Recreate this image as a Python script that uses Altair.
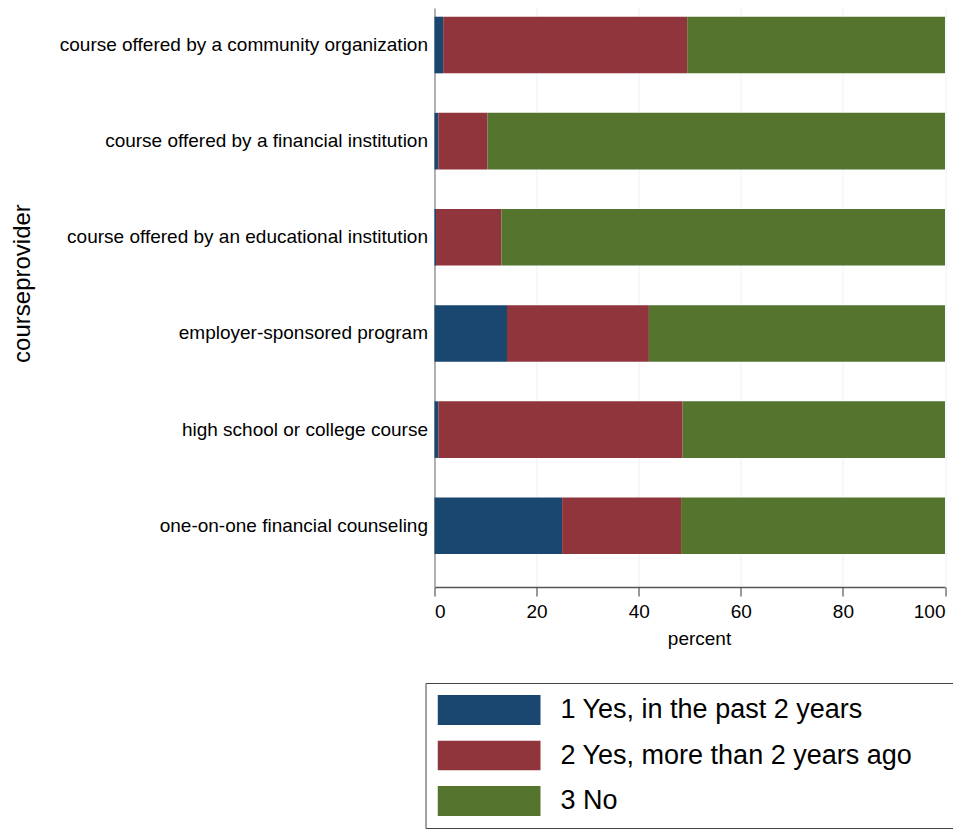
import altair as alt
import pandas as pd

providers = [
    "course offered by a community organization",
    "course offered by a financial institution",
    "course offered by an educational institution",
    "employer-sponsored program",
    "high school or college course",
    "one-on-one financial counseling",
]
responses = ["1 Yes, in the past 2 years", "2 Yes, more than 2 years ago", "3 No"]
yes_recent = [1.7, 0.75, 0.3, 14.2, 0.75, 25.0]
yes_past = [47.8, 9.65, 12.8, 27.8, 47.85, 23.3]
no_course = [50.5, 89.6, 86.9, 58.0, 51.4, 51.7]
colors = ["#1a476f", "#90353b", "#55752f"]

rows = []
for i, p in enumerate(providers):
    for j, (resp, series) in enumerate(zip(responses, [yes_recent, yes_past, no_course])):
        rows.append({"provider": p, "response": resp, "value": series[i], "idx": j})
df = pd.DataFrame(rows)

# trailing non-breaking spaces (kept by a final zero-width char) widen the legend box
tail = "\u00a0" * 5 + "\u200b"

chart = (
    alt.Chart(df)
    .mark_bar()
    .encode(
        y=alt.Y(
            "provider:N",
            sort=providers,
            scale=alt.Scale(paddingInner=0.411, paddingOuter=0.2167, align=0.209),
            axis=alt.Axis(
                title="courseprovider",
                ticks=False,
                labelPadding=7,
                labelFontSize=19,
                labelColor="#000",
                labelLimit=600,
                domainColor="#999",
                domainWidth=1.5,
                titleFontSize=24,
                titleFontWeight="normal",
                titleColor="#000",
                titleX=-412.5,
                titleY=275,
                titleAlign="center",
                titleBaseline="middle",
            ),
        ),
        x=alt.X(
            "value:Q",
            stack="zero",
            scale=alt.Scale(domain=[0, 100], nice=False),
            axis=alt.Axis(
                values=[0, 20, 40, 60, 80, 100],
                title="percent",
                grid=True,
                gridColor="#e9f1f3",
                gridWidth=1,
                tickSize=9,
                tickColor="#555",
                tickWidth=1.2,
                domainColor="#555",
                domainWidth=1.5,
                labelFontSize=19,
                labelColor="#000",
                labelPadding=6,
                titleFontSize=19,
                titleFontWeight="normal",
                titleColor="#000",
                titleX=264.5,
                titleY=51,
                titleAlign="center",
                titleBaseline="middle",
            ),
        ),
        color=alt.Color(
            "response:N",
            scale=alt.Scale(domain=responses, range=colors),
            legend=alt.Legend(
                title=None,
                orient="none",
                legendX=-9,
                legendY=675,
                direction="vertical",
                symbolType="M-1,-0.2913L1,-0.2913L1,0.2913L-1,0.2913Z",
                symbolSize=10609,
                symbolStrokeWidth=0,
                symbolOpacity=1,
                clipHeight=30,
                rowPadding=15.5,
                labelFontSize=27,
                labelColor="#000",
                labelOffset=20,
                labelLimit=1000,
                labelExpr="datum.label + '" + tail + "'",
                padding=12,
                strokeColor="#444",
                fillColor="white",
                cornerRadius=0,
            ),
        ),
        order=alt.Order("idx:Q"),
    )
    .properties(
        width=510.5,
        height=579,
        autosize="none",
        padding={"left": 426.5, "top": 0, "right": 8, "bottom": 242},
    )
    .configure(font="Liberation Sans")
    .configure_view(stroke=None)
)

chart.save("out.html", embed_options={"renderer": "svg", "actions": False})
